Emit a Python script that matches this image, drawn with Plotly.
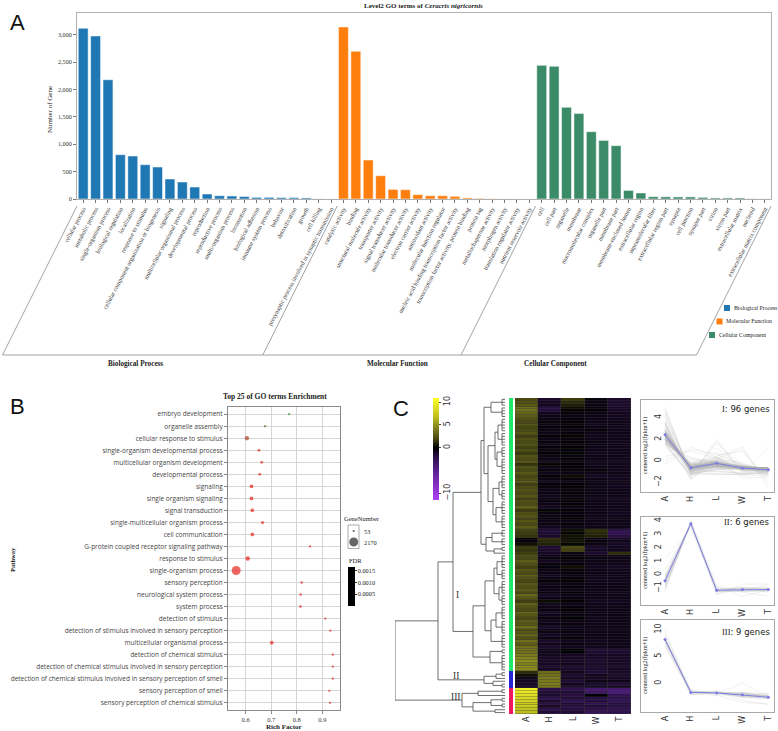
import numpy as np
import plotly.graph_objects as go

W, H = 778, 731          # browser window (page pixels)
OFF = 0                  # body margin is removed by the post script below
FW, FH = W - OFF, H - OFF
SERIF = "Liberation Serif"
SANS = "DejaVu Sans"
OSANS = "Open Sans"

# ---------------- Panel A: Level2 GO terms ----------------
bp_terms = ["cellular process", "metabolic process", "single-organism process",
            "biological regulation", "localization", "response to stimulus",
            "cellular component organization or biogenesis", "signaling",
            "multicellular organismal process", "developmental process", "reproduction",
            "reproductive process", "multi-organism process", "locomotion",
            "biological adhesion", "immune system process", "behavior", "detoxification",
            "growth", "cell killing", "presynaptic process involved in synaptic transmission"]
bp_counts = [3120, 2980, 2180, 810, 786, 627, 585, 366, 311, 219, 91, 60, 55, 45,
             30, 30, 25, 25, 20, 3, 1]
mf_terms = ["catalytic activity", "binding", "structural molecule activity", "transporter activity",
            "signal transducer activity", "molecular transducer activity", "electron carrier activity",
            "antioxidant activity", "molecular function regulator",
            "nucleic acid binding transcription factor activity",
            "transcription factor activity, protein binding", "protein tag",
            "metallochaperone activity", "morphogen activity", "translation regulator activity",
            "nutrient reservoir activity"]
mf_counts = [3145, 2700, 713, 426, 176, 170, 79, 60, 60, 48, 20, 12, 5, 2, 1, 1]
cc_terms = ["cell", "cell part", "organelle", "membrane", "macromolecular complex", "organelle part",
            "membrane part", "membrane-enclosed lumen", "extracellular region", "supramolecular fiber",
            "extracellular region part", "synapse", "cell junction", "synapse part", "virion",
            "virion part", "extracellular matrix", "nucleoid", "extracellular matrix component"]
cc_counts = [2443, 2425, 1675, 1565, 1230, 1071, 975, 157, 110, 42, 40, 38, 38, 30,
             20, 20, 20, 4, 2]
a_yticks = [0, 500, 1000, 1500, 2000, 2500, 3000]
group_names = ["Biological Process", "Molecular Function", "Cellular Component"]
group_colors = ["#1f77b4", "#ff7f0e", "#3b8b68"]

# ---------------- Panel B: Top 25 GO enrichment ----------------
go_terms = ["embryo development", "organelle assembly", "cellular response to stimulus",
            "single-organism developmental process", "multicellular organism development",
            "developmental process", "signaling", "single organism signaling", "signal transduction",
            "single-multicellular organism process", "cell communication",
            "G-protein coupled receptor signaling pathway", "response to stimulus",
            "single-organism process", "sensory perception", "neurological system process",
            "system process", "detection of stimulus",
            "detection of stimulus involved in sensory perception",
            "multicellular organismal process", "detection of chemical stimulus",
            "detection of chemical stimulus involved in sensory perception",
            "detection of chemical stimulus involved in sensory perception of smell",
            "sensory perception of smell", "sensory perception of chemical stimulus"]
rich_factor = [0.770, 0.676, 0.605, 0.652, 0.663, 0.655, 0.623, 0.623, 0.626, 0.666, 0.626,
               0.852, 0.608, 0.563, 0.819, 0.815, 0.814, 0.911, 0.931, 0.702, 0.941, 0.941,
               0.941, 0.927, 0.930]
gene_number = [55, 60, 380, 110, 110, 120, 250, 250, 240, 150, 250, 55, 440, 2170, 70, 75,
               80, 60, 57, 250, 55, 54, 53, 55, 56]
fdr = [0.0016, 0.0013, 0.0005, 0.00003, 0.00003, 0.00003, 0.00002, 0.00002, 0.00002, 0.00003,
       0.00002, 0.00004, 0.00001, 0.0, 0.00003, 0.00003, 0.00003, 0.00004, 0.00004, 0.00002,
       0.00004, 0.00004, 0.00004, 0.00004, 0.00004]
gene_legend = [53, 2170]
fdr_ticks = [0.0005, 0.0010, 0.0015]
rich_ticks = [0.6, 0.7, 0.8, 0.9]

# ---------------- Panel C: clustered expression ----------------
samples = ["A", "H", "L", "W", "T"]
cluster_I = [
    [2.0, -1.2, 1.6, -0.4, -1.2], [2.3, -1.0, 1.2, -0.6, -1.3], [2.6, -0.9, 0.8, -0.5, -1.4],
    [3.4, -1.8, 0.3, -0.3, -1.0], [3.6, -1.7, 0.1, -0.2, -1.2], [3.0, -0.8, -0.4, -0.6, -0.9],
    [2.8, -0.6, -0.5, -0.7, -0.8],
    [2.2, -0.5, -0.3, -0.6, -0.8], [2.0, -0.4, -0.2, -0.7, -0.7], [2.5, -0.6, -0.4, -0.8, -0.7],
    [1.9, -0.3, -0.1, -0.6, -0.9], [2.1, -0.5, -0.5, -0.4, -0.7], [2.4, -0.7, -0.3, -0.7, -0.7],
    [1.7, -0.2, 0.1, -0.8, -0.8], [2.3, -0.6, -0.4, -0.6, -0.7], [2.0, -0.4, -0.2, -0.5, -0.9],
    [2.6, -0.8, -0.5, -0.6, -0.7], [1.8, -0.3, 0.0, -0.7, -0.8], [2.2, -0.5, -0.3, -0.7, -0.7],
    [1.6, -0.1, 0.2, -0.9, -0.8], [2.4, -0.6, -0.5, -0.6, -0.7], [2.1, -0.5, -0.2, -0.6, -0.8],
    [2.7, -0.9, -0.6, -0.5, -0.7], [1.5, 0.2, -0.1, -0.8, -0.8], [2.3, -0.6, -0.3, -0.7, -0.7],
    [2.0, -0.4, -0.4, -0.4, -0.8], [2.5, -0.7, -0.5, -0.6, -0.7], [1.9, -0.3, 0.3, -1.0, -0.9],
    [2.2, -0.5, -0.3, -0.6, -0.8], [2.8, -0.9, -0.6, -0.6, -0.7], [1.7, -0.2, -0.1, -0.5, -0.9],
    [2.1, -0.4, -0.2, -0.7, -0.8], [2.4, -0.6, -0.4, -0.7, -0.7], [2.0, -0.5, -0.3, -0.5, -0.7],
    [2.6, -0.8, -0.5, -0.6, -0.7], [1.8, -0.4, 0.1, -0.7, -0.8], [2.3, -0.5, -0.4, -0.6, -0.8],
    [2.1, -0.6, -0.2, -0.6, -0.7], [2.9, -1.0, -0.6, -0.6, -0.7], [1.6, 0.1, -0.2, -0.7, -0.8],
    [2.2, -0.5, -0.3, -0.6, -0.8], [2.5, -0.7, -0.4, -0.7, -0.7], [1.9, -0.3, -0.1, -0.8, -0.7],
    [2.4, -0.6, -0.5, -0.6, -0.7], [2.0, -0.5, -0.2, -0.6, -0.7], [2.7, -0.8, -0.5, -0.7, -0.7],
    [1.8, -1.6, 0.4, 1.3, -2.2], [1.6, -1.4, 0.2, 1.1, -2.5], [1.4, -1.2, 0.5, 0.9, -1.9],
    [0.0, 1.3, 0.3, -0.6, -1.0], [-0.3, 1.1, 0.6, -0.4, -0.8], [0.4, 0.9, 0.2, -0.5, -1.1],
    [1.6, -1.5, 2.0, -1.2, -0.9], [1.4, -1.3, 1.8, -1.0, -0.8], [1.7, -1.0, -0.6, -1.3, 1.3],
    [2.4, -0.6, -0.4, -0.7, -0.7], [2.0, -0.5, -0.2, -0.6, -0.7], [2.8, -0.9, -0.6, -0.6, -0.7],
    [2.2, -0.4, -0.3, -0.7, -0.8], [1.8, -0.3, 0.4, -0.9, -1.0], [2.5, -0.7, -0.4, -0.6, -0.8],
    [2.1, -0.5, -0.3, -0.6, -0.7], [3.0, -1.0, -0.6, -0.7, -0.7], [2.3, -0.6, -0.2, -0.8, -0.7],
    [1.9, -0.2, -0.1, -0.8, -0.8], [2.6, -0.8, -0.5, -0.6, -0.7], [2.2, -0.5, -0.3, -0.7, -0.7],
    [2.7, -0.7, -0.6, -0.7, -0.7], [2.0, -0.4, -0.2, -0.6, -0.8], [3.2, -1.1, -0.7, -0.7, -0.7],
    [2.4, -0.6, -0.4, -0.7, -0.7], [1.7, 0.3, -0.2, -0.9, -0.9], [2.9, -0.9, -0.6, -0.7, -0.7],
    [2.3, -0.6, -0.3, -0.7, -0.7], [2.1, -0.5, -0.2, -0.7, -0.7], [3.3, -1.2, -0.7, -0.7, -0.7],
    [2.5, -0.7, -0.4, -0.7, -0.7], [2.0, -0.4, -0.1, -0.8, -0.7], [2.8, -0.8, -0.6, -0.7, -0.7],
    [2.4, -0.6, -0.4, -0.7, -0.7], [3.4, -1.2, -0.8, -0.7, -0.7], [2.2, -0.5, -0.3, -0.7, -0.7],
    [2.6, -0.7, -0.5, -0.7, -0.7], [3.1, -1.0, -0.7, -0.7, -0.7], [2.3, -0.5, -0.4, -0.7, -0.7],
    [3.5, -1.2, -0.8, -0.8, -0.7], [2.7, -0.8, -0.5, -0.7, -0.7], [3.6, -1.3, -0.8, -0.8, -0.7],
    [3.8, -0.7, 0.0, -1.6, -1.5], [3.5, -0.8, -0.1, -1.4, -1.3],
    [4.0, -0.9, -1.0, -1.1, -1.0], [4.4, -1.1, -1.0, -1.2, -1.1], [4.8, -1.2, -1.2, -1.3, -1.1],
    [4.2, -1.0, -0.9, -1.2, -1.1], [5.0, -1.3, -1.3, -1.2, -1.2], [4.6, -1.1, -1.2, -1.3, -1.0],
]
cluster_II = [
    [1.2, 3.4, -0.9, -1.6, -1.1], [0.4, 3.6, -1.3, -0.9, -1.3], [-0.9, 4.0, -1.0, -1.0, -1.1],
    [-1.0, 3.9, -1.5, -0.7, -0.7], [-1.2, 4.0, -0.8, -1.3, -1.6], [-1.2, 3.9, -1.4, -1.1, -0.8],
]
cluster_III = [
    [10.0, -2.0, -2.2, -3.6, -3.8], [9.3, -1.6, -1.5, -3.2, -4.0], [8.8, -1.4, -1.9, 0.0, -2.4],
    [8.4, -2.2, -1.6, -2.0, -2.2], [8.0, -1.3, -2.3, -1.8, -2.6], [7.6, -1.9, -1.4, -2.4, -1.8],
    [7.4, -1.2, -2.0, -1.6, -2.0], [7.0, -2.1, -1.7, -2.1, -2.4], [6.8, -1.6, -1.6, -2.6, -2.2],
]
cluster_names = ["I", "II", "III"]
cluster_colors = ["#1fe86a", "#2626d6", "#f0195c"]
# dendrogram: [height, left, right]; integers are blocks of adjacent leaves
tree_I = [52,
          [24,
           [21, [14, 3, 4],
            [17, [10, [7, 5, 5], [8, 4, 6]], [12, [6, 5, 4], [9, 5, 5]]]],
           [19, [13, 3, 3], [11, 2, 1]]],
          [32,
           [20, [11, [8, 5, 4], [6, 5, 4]], [14, [9, 5, 5], 5]],
           [15, 2, 6]]]
tree_II = [21, [9, 2, 1], [12, 1, 2]]
tree_III = [43, [27, 2, 1], [32, [14, 2, 2], [10, 1, 1]]]
tree_root = [110, [67, tree_I, tree_II], tree_III]
heat_ticks = [-10, 0, 5, 10]


# ---------------- helpers (page pixel -> paper) ----------------
def px(x):
    return (x - OFF) / FW


def py(y):
    return 1 - (y - OFF) / FH


def dx(x0, x1):
    return [px(x0), px(x1)]


def dy(y0, y1):
    return [py(y1), py(y0)]


ann, shapes = [], []


def text(x, y, s, size=7, family=SERIF, color="#222", xanchor="center", yanchor="middle",
         angle=0, bold=False):
    ann.append(dict(x=px(x), y=py(y), xref="paper", yref="paper",
                    text=("<b>%s</b>" % s) if bold else s, showarrow=False,
                    font=dict(size=size, family=family, color=color),
                    xanchor=xanchor, yanchor=yanchor, textangle=angle, borderpad=0))


def pline(x0, y0, x1, y1, color="#8a8a8a", width=0.8):
    shapes.append(dict(type="line", xref="paper", yref="paper", x0=px(x0), y0=py(y0),
                       x1=px(x1), y1=py(y1), line=dict(color=color, width=width)))


def prect(x0, y0, x1, y1, fill, color=None, width=0):
    shapes.append(dict(type="rect", xref="paper", yref="paper", x0=px(x0), y0=py(y1),
                       x1=px(x1), y1=py(y0), fillcolor=fill,
                       line=dict(color=color or fill, width=width)))


def pcircle(cx, cy, d, fill):
    r = d / 2
    shapes.append(dict(type="circle", xref="paper", yref="paper", x0=px(cx - r),
                       y0=py(cy + r), x1=px(cx + r), y1=py(cy - r),
                       fillcolor=fill, line=dict(width=0)))


def dot_size(n):
    return 0.17 * np.sqrt(np.asarray(n, dtype=float)) + 1.0


fig = go.Figure()

# ================= Panel A =================
A_X0, A_X1, A_TOP, A_BASE = 77, 771, 13, 199
all_terms = bp_terms + mf_terms + cc_terms
n_terms = len(all_terms)
for terms, counts, col in zip([bp_terms, mf_terms, cc_terms], [bp_counts, mf_counts, cc_counts],
                              group_colors):
    fig.add_trace(go.Bar(x=terms, y=counts, xaxis="x", yaxis="y", showlegend=False,
                         marker=dict(color=col, line=dict(color="white", width=0.5)),
                         hoverinfo="x+y"))

step = (A_X1 - A_X0) / n_terms
bounds = [0, len(bp_terms), len(bp_terms) + len(mf_terms), n_terms]
top_y, bot_y = 206, 355
slant = 0.5 * (bot_y - top_y)
for b in bounds:
    xt = A_X0 + b * step
    pline(xt, top_y, xt - slant, bot_y)
pline(A_X0 - slant, bot_y, A_X1 - slant, bot_y)
text(135, 364, group_names[0], size=7.2, bold=True)
text(398, 364, group_names[1], size=7.2, bold=True)
text(555, 364, group_names[2], size=7.2, bold=True)
# legend
for i, (nm, col) in enumerate(zip(group_names, group_colors)):
    cx, cy = 727 - i * 7.5, 308 + i * 13.5
    prect(cx - 3, cy - 3, cx + 3, cy + 3, col)
    text(cx + 5.5, cy, nm, size=5.8, xanchor="left")
text(424, 6, "Level2 GO terms of <i>Ceracris nigricornis</i>", size=7, bold=True)
text(50, 110, "Number of Gene", size=7, angle=-90)
text(17, 22, "A", size=22, family="Liberation Sans", color="#111")

# ================= Panel B =================
fig.add_trace(go.Scatter(x=rich_factor, y=go_terms, xaxis="x2", yaxis="y2", mode="markers",
                         showlegend=False,
                         marker=dict(size=dot_size(gene_number), color=fdr, cmin=0, cmax=0.0016,
                                     colorscale=[[0, "#e8231c"], [0.3, "#b03e26"], [1, "#2e8b3a"]],
                                     line=dict(width=0), showscale=False)))
# FDR colour bar (rendered black in the original)
fig.add_trace(go.Scatter(x=[rich_factor[0]], y=[go_terms[0]], xaxis="x2", yaxis="y2",
                         mode="markers", showlegend=False, hoverinfo="skip", opacity=0,
                         marker=dict(size=1, color=[fdr_ticks[1]], cmin=-0.00002, cmax=0.00167,
                                     colorscale=[[0, "#000000"], [1, "#000000"]], showscale=True,
                                     colorbar=dict(x=px(348), xanchor="left", y=py(567),
                                                   yanchor="top", len=39, lenmode="pixels",
                                                   thickness=6.5, thicknessmode="pixels",
                                                   xpad=0, ypad=0, outlinewidth=0,
                                                   ticks="outside", ticklen=2, tickcolor="#333",
                                                   tickvals=fdr_ticks,
                                                   ticktext=["%.4f" % v for v in fdr_ticks],
                                                   tickfont=dict(family=SERIF, size=6.3,
                                                                 color="#222")))))
text(275, 396, "Top 25 of GO terms Enrichment", size=7.5, bold=True)
text(284, 727, "Rich Factor", size=7, bold=True)
text(12, 560, "Pathway", size=6.5, bold=True, angle=-90)
text(17, 407, "B", size=22, family="Liberation Sans", color="#111")
# GeneNumber size legend
text(362, 518, "GeneNumber", size=6.5)
prect(348, 525, 359, 548.5, "rgba(0,0,0,0)", color="#888", width=0.7)
for gn, cy in zip(gene_legend, [531, 542]):
    pcircle(353.7, cy, float(dot_size(gn)), "#666666")
    text(363, cy, str(gn), size=6.3, xanchor="left")
text(348, 560, "FDR", size=6.5, xanchor="left")

# ================= Panel C =================
z_rows = cluster_I + cluster_II + cluster_III
n_rows = len(z_rows)
row_idx = list(range(n_rows))
clu_id = [0] * len(cluster_I) + [1] * len(cluster_II) + [2] * len(cluster_III)

# dendrogram
LEAF_H = 3
segs = []


def build(node, start):
    if isinstance(node, int):
        rows = list(range(start, start + node))
        if node == 1:
            return float(start), 0.0, start + 1
        for r in rows:
            segs.append(((0, r), (LEAF_H, r)))
        segs.append(((LEAF_H, rows[0]), (LEAF_H, rows[-1])))
        return (rows[0] + rows[-1]) / 2.0, LEAF_H, start + node
    h, left, right = node
    yl, hl, s = build(left, start)
    yr, hr, s = build(right, s)
    segs.append(((hl, yl), (h, yl)))
    segs.append(((hr, yr), (h, yr)))
    segs.append(((h, yl), (h, yr)))
    return (yl + yr) / 2.0, h, s


build(tree_root, 0)
dxs, dys = [], []
for (x0, y0), (x1, y1) in segs:
    dxs += [x0, x1, None]
    dys += [y0, y1, None]
fig.add_trace(go.Scatter(x=dxs, y=dys, xaxis="x3", yaxis="y3", mode="lines", showlegend=False,
                         line=dict(color="#4a4a4a", width=0.8), hoverinfo="skip"))

# cluster colour strip
cs = []
for i, c in enumerate(cluster_colors):
    cs += [[i / 3, c], [(i + 1) / 3, c]]
fig.add_trace(go.Heatmap(z=[[c] for c in clu_id], x=["k"], y=row_idx, xaxis="x4", yaxis="y4",
                         colorscale=cs, zmin=-0.5, zmax=2.5, showscale=False, hoverinfo="skip"))

# heatmap
ZMIN, ZMAX = -11.5, 10.9
hstops = [(ZMIN, "#b040f5"), (-5, "#5a2090"), (-2, "#2b0f48"), (0, "#000000"),
          (2, "#4a4a12"), (4, "#7a7a1e"), (7, "#c4c420"), (ZMAX, "#ffff28")]
hscale = [[(v - ZMIN) / (ZMAX - ZMIN), c] for v, c in hstops]
shapes.append(dict(type="rect", xref="x5 domain", yref="y5 domain", x0=0, x1=1, y0=0, y1=1,
                   fillcolor="#3a3a3a", line=dict(width=0), layer="below"))
fig.add_trace(go.Heatmap(z=z_rows, x=samples, y=row_idx, xaxis="x5", yaxis="y5",
                         colorscale=hscale, zmin=ZMIN, zmax=ZMAX, xgap=0.5, ygap=0.35,
                         colorbar=dict(x=px(432.7), xanchor="left", y=py(398), yanchor="top",
                                       len=102, lenmode="pixels", thickness=5.6,
                                       thicknessmode="pixels", xpad=0, ypad=0, outlinewidth=0,
                                       tickvals=heat_ticks, ticks="outside", ticklen=2,
                                       tickangle=-90,
                                       tickfont=dict(family=SANS, size=8, color="#333"))))
text(457.7, 595, "I", size=9.5, color="#333")
text(456, 676, "II", size=9.5, color="#333")
text(456, 697, "III", size=9.5, color="#333")
text(401, 408, "C", size=22, family="Liberation Sans", color="#111")

# line plots
frames = [(400, 492, [-2.9, 5.65], [-2, 0, 2, 4]),
          (516.7, 605, [-2.25, 4.32], [-2, -1, 0, 1, 2, 3, 4]),
          (620, 711.7, [-5.3, 11.8], [-5, 0, 5, 10])]
label_y = [409, 521.7, 631.7]
for k, rows in enumerate([cluster_I, cluster_II, cluster_III]):
    xa, ya = "x%d" % (6 + k), "y%d" % (6 + k)
    arr = np.array(rows, dtype=float)
    gx, gy = [], []
    for r in rows:
        gx += samples + [None]
        gy += list(r) + [None]
    fig.add_trace(go.Scatter(x=gx, y=gy, xaxis=xa, yaxis=ya, mode="lines", showlegend=False,
                             line=dict(color="rgba(190,190,190,0.35)", width=0.6),
                             hoverinfo="skip"))
    mean = arr.mean(axis=0)
    sd = arr.std(axis=0)
    fig.add_trace(go.Scatter(x=samples, y=mean + 0.5 * sd, xaxis=xa, yaxis=ya, mode="lines",
                             line=dict(width=0), showlegend=False, hoverinfo="skip"))
    fig.add_trace(go.Scatter(x=samples, y=mean - 0.5 * sd, xaxis=xa, yaxis=ya, mode="lines",
                             line=dict(width=0), fill="tonexty",
                             fillcolor="rgba(170,170,170,0.4)", showlegend=False,
                             hoverinfo="skip"))
    fig.add_trace(go.Scatter(x=samples, y=mean, xaxis=xa, yaxis=ya, mode="lines+markers",
                             line=dict(color="#7d7de0", width=1),
                             marker=dict(size=3, color="#7d7de0", symbol="circle"),
                             showlegend=False))
    y0, y1, _, _ = frames[k]
    text(645, (y0 + y1) / 2, "centered log2(fpkm+1)", size=6.2, angle=-90)
    text(771, label_y[k],
         '<span style="font-family:Liberation Serif">%s</span>: %d genes'
         % (cluster_names[k], len(rows)), size=8.5, family=SANS, xanchor="right", color="#222")

# ---------------- layout ----------------
ax_off = dict(visible=False, showgrid=False, zeroline=False)
layout = dict(
    width=FW, height=FH, margin=dict(l=0, r=0, t=0, b=0), template="none",
    paper_bgcolor="white", plot_bgcolor="rgba(0,0,0,0)", showlegend=False,
    barmode="relative", bargap=0.2, font=dict(family=SERIF, color="#222"),
    xaxis=dict(domain=dx(A_X0, A_X1), anchor="y", type="category", categoryorder="array",
               categoryarray=all_terms, range=[-0.5, n_terms - 0.5], tickangle=-62,
               tickfont=dict(family=SERIF, size=6.2, color="#333"), ticks="outside", ticklen=3,
               tickcolor="#777", showline=True, linecolor="#b0b0b0", linewidth=0.8, mirror=True,
               showgrid=False, zeroline=False),
    yaxis=dict(domain=dy(A_TOP, A_BASE), anchor="x", range=[0, 3400], tickvals=a_yticks,
               tickformat=",", ticks="outside", ticklen=3, tickcolor="#777",
               tickfont=dict(family=SERIF, size=6.2, color="#333"), showline=True,
               linecolor="#b0b0b0", linewidth=0.8, mirror=True, showgrid=False, zeroline=False),
    xaxis2=dict(domain=dx(228, 340), anchor="y2", range=[0.531, 0.969], tickvals=rich_ticks,
                ticks="outside", ticklen=3, tickcolor="#888",
                tickfont=dict(family=SERIF, size=6.5, color="#333"), showgrid=True,
                gridcolor="#d6d6d6", gridwidth=0.8, showline=True, linecolor="#8a8a8a",
                mirror=True, zeroline=False),
    yaxis2=dict(domain=dy(407, 710), anchor="x2", type="category", categoryorder="array",
                categoryarray=go_terms, range=[len(go_terms) - 0.4, -0.6], ticks="outside",
                ticklen=3, tickcolor="#888", tickfont=dict(family=OSANS, size=6.5, color="#444"),
                showgrid=True, gridcolor="#d6d6d6", gridwidth=0.8, showline=True,
                linecolor="#8a8a8a", mirror=True, zeroline=False),
    xaxis3=dict(domain=dx(395, 505), anchor="y3", range=[110, 0], **ax_off),
    yaxis3=dict(domain=dy(398, 714), anchor="x3", range=[n_rows - 0.5, -0.5], **ax_off),
    xaxis4=dict(domain=dx(509, 513), anchor="y4", **ax_off),
    yaxis4=dict(domain=dy(398, 714), anchor="x4", range=[n_rows - 0.5, -0.5], **ax_off),
    xaxis5=dict(domain=dx(515, 631), anchor="y5", type="category", tickangle=-90, ticks="",
                tickfont=dict(family=SANS, size=8, color="#333"), showline=False,
                showgrid=False, zeroline=False),
    yaxis5=dict(domain=dy(398, 714), anchor="x5", range=[n_rows - 0.5, -0.5], **ax_off),
    annotations=ann, shapes=shapes,
)
for k, (y0, y1, yr, yt) in enumerate(frames):
    layout["xaxis%d" % (6 + k)] = dict(
        domain=dx(641, 774), anchor="y%d" % (6 + k), type="category", categoryorder="array",
        categoryarray=samples, range=[-0.93, 4.22], tickangle=-90, ticks="",
        tickfont=dict(family=SANS, size=8, color="#333"), showline=True, linecolor="#a8a8a8",
        linewidth=0.8, mirror=True, showgrid=False, zeroline=False)
    layout["yaxis%d" % (6 + k)] = dict(
        domain=dy(y0, y1), anchor="x%d" % (6 + k), range=yr, tickvals=yt, ticks="",
        ticklabelposition="inside", ticklabelstandoff=9, tickangle=-90,
        tickfont=dict(family=SANS, size=8, color="#333"), showline=True, linecolor="#a8a8a8",
        linewidth=0.8, mirror=True, showgrid=False, zeroline=False)

fig.update_layout(**layout)
fig.write_html("out.html", config={"displayModeBar": False},
               post_script="document.body.style.margin='0px';"
                           "document.body.style.overflow='hidden';")
